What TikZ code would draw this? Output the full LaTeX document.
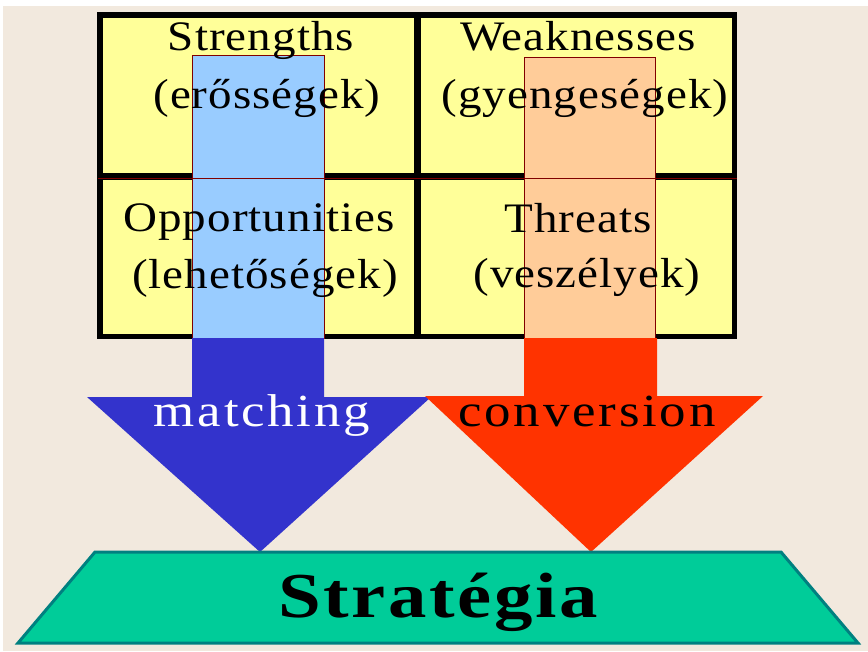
\documentclass[tikz,border=0pt]{standalone}
\usepackage{fontspec}
\setmainfont{Liberation Serif}
\newfontfamily\cellfont[FakeStretch=1.12,LetterSpace=2.5]{Liberation Serif}
\newfontfamily\arrowfont[FakeStretch=1.15,LetterSpace=6]{Liberation Serif}
\newfontfamily\stratfont[FakeStretch=1.2,LetterSpace=4]{Liberation Serif}
\definecolor{bgbeige}{RGB}{242,233,222}
\definecolor{cellyellow}{RGB}{255,255,153}
\definecolor{lightblue}{RGB}{153,204,255}
\definecolor{peach}{RGB}{255,204,153}
\definecolor{arrowblue}{RGB}{51,51,204}
\definecolor{arrowred}{RGB}{255,51,0}
\definecolor{stratgreen}{RGB}{0,204,153}
\definecolor{stratteal}{RGB}{0,128,128}
\definecolor{borderred}{RGB}{128,0,0}
\begin{document}
\begin{tikzpicture}[x=1pt,y=-1pt,
  celltext/.style={anchor=base,inner sep=0pt,font=\cellfont\fontsize{42}{42}\selectfont},
  arrowtext/.style={anchor=base,inner sep=0pt,font=\arrowfont\fontsize{46}{46}\selectfont},
  shaftbox/.style={draw=borderred,line width=0.8pt},
  gridline/.style={line width=5.5pt,black},
  innerline/.style={line width=7pt,black}]
\useasboundingbox (0,0) rectangle (868,651);
% background
\fill[white] (0,0) rectangle (868,651);
\fill[bgbeige] (3,6) rectangle (868,651);
% cells
\fill[cellyellow] (99.5,14.5) rectangle (734.5,336.5);
\draw[innerline] (417,14.5) -- (417,336.5);
\draw[innerline] (99.5,176.5) -- (734.5,176.5);
\draw[gridline] (99.75,14.75) rectangle (734.25,336.25);
% shafts over grid
\draw[shaftbox,fill=lightblue] (192,55) rectangle (324,338);
\draw[shaftbox,fill=peach] (524,57) rectangle (655,338);
\draw[borderred,line width=0.8pt] (98,178) -- (737,178);
% cell texts
\node[celltext] (s1) at (261,50) {Strengths};
\node[celltext] (s2) at (267,108) {(erősségek)};
\node[celltext] (w1) at (578,50) {Weaknesses};
\node[celltext] (w2) at (585,108) {(gyengeségek)};
\node[celltext] (o1) at (259,231) {Opportunities};
\node[celltext] (o2) at (265,288) {(lehetőségek)};
\node[celltext] (t1) at (578,232) {Threats};
\node[celltext] (t2) at (587,287) {(veszélyek)};
% arrows
\fill[arrowblue] (192,338) -- (324,338) -- (324,397) -- (431,397) -- (260,552) -- (87,397) -- (192,397) -- cycle;
\fill[arrowred] (524,338) -- (657,338) -- (657,396) -- (763,396) -- (591,552) -- (425,396) -- (524,396) -- cycle;
\node[arrowtext,text=white] (m) at (262,426) {matching};
\node[arrowtext,text=black] (c) at (587,426) {conversion};
% strategy
\draw[stratteal,line width=3pt,fill=stratgreen,line join=miter] (95,552) -- (781,552) -- (858,643) -- (18,643) -- cycle;
\node[anchor=base,inner sep=0pt,font=\stratfont\bfseries\fontsize{64}{64}\selectfont] (strat) at (438,617) {Stratégia};
\end{tikzpicture}
\end{document}
